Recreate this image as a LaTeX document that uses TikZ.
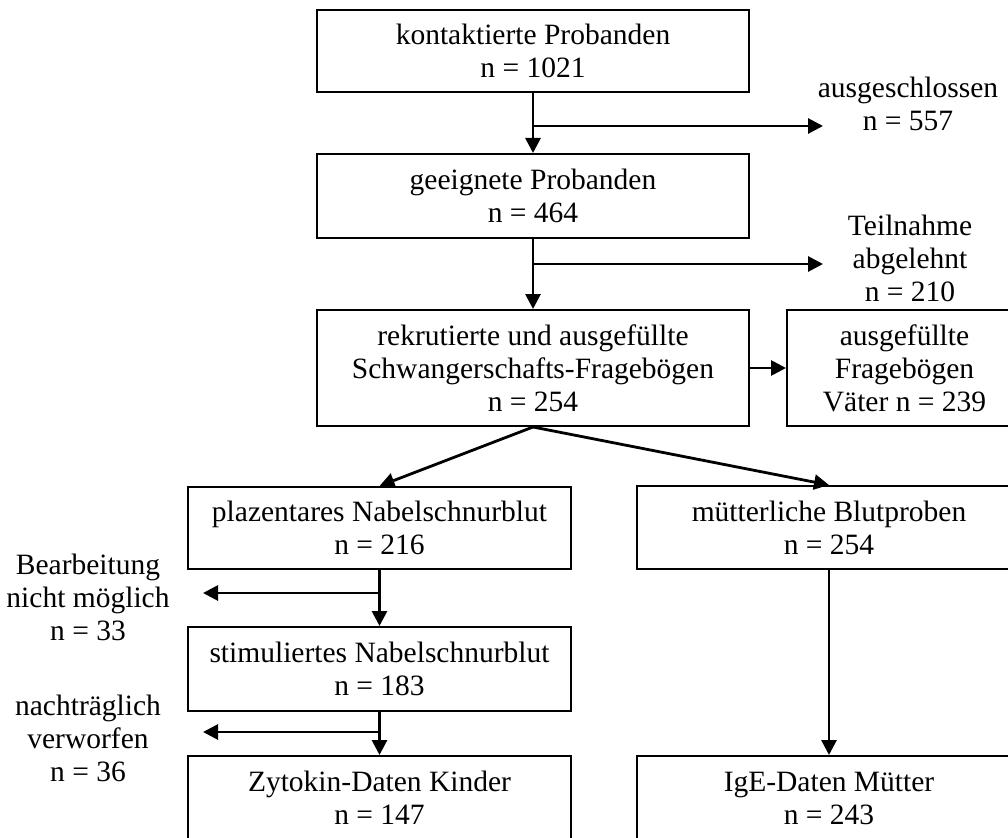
\documentclass[tikz,border=0pt]{standalone}
\usepackage{fontspec}
\setmainfont{Liberation Serif}
\usetikzlibrary{arrows.meta}
\begin{document}
\begin{tikzpicture}[x=1pt,y=-1pt,
  txt/.style={inner sep=0pt,align=center,font=\fontsize{29.5}{33}\selectfont},
  box/.style={txt,draw,line width=2pt},
  ln/.style={line width=2.8pt},
  arr/.style={ln,-{Triangle[length=15pt,width=15pt]}}]
\useasboundingbox (0,0) rectangle (1008,837);
\clip (0,0) rectangle (1008,837);
% main column
\node[box,minimum width=432pt,minimum height=82pt] (b1) at (533,51) {kontaktierte Probanden\\n = 1021};
\node[box,minimum width=432pt,minimum height=84pt] (b2) at (533,196) {geeignete Probanden\\n = 464};
\node[box,minimum width=432pt,minimum height=116pt] (b3) at (533,368) {rekrutierte und ausgefüllte\\Schwangerschafts-Fragebögen\\n = 254};
\node[box,minimum width=235pt,minimum height=116pt] (b4) at (904.5,368) {ausgefüllte\\Fragebögen\\Väter n = 239};
% lower columns
\node[box,minimum width=383pt,minimum height=82pt] (b5) at (379.5,528) {plazentares Nabelschnurblut\\n = 216};
\node[box,minimum width=384pt,minimum height=83pt] (b6) at (829,527.5) {mütterliche Blutproben\\n = 254};
\node[box,minimum width=383pt,minimum height=84pt] (b7) at (379.5,669) {stimuliertes Nabelschnurblut\\n = 183};
\node[box,minimum width=383pt,minimum height=84pt] (b8) at (379.5,798) {Zytokin-Daten Kinder\\n = 147};
\node[box,minimum width=384pt,minimum height=84pt] (b9) at (829,798) {IgE-Daten Mütter\\n = 243};
% side labels
\node[txt] (l1) at (908,103.5) {ausgeschlossen\\n = 557};
\node[txt] (l2) at (910,258) {Teilnahme\\abgelehnt\\n = 210};
\node[txt] (l3) at (88,597) {Bearbeitung\\nicht möglich\\n = 33};
\node[txt] (l4) at (88,738) {nachträglich\\verworfen\\n = 36};
% arrow end points
\coordinate (e1) at (823,126);
\coordinate (e2) at (823,264);
\coordinate (e3) at (203,593);
\coordinate (e4) at (203,732);
% connectors
\draw[arr] (b1.south) -- (b2.north);
\draw[arr] (b1.south |- e1) -- (e1);
\draw[arr] (b2.south) -- (b3.north);
\draw[arr] (b2.south |- e2) -- (e2);
\draw[arr] (b3.east) -- (b4.west);
\draw[arr] (b3.south) -- (b5.north);
\draw[arr] (b3.south) -- (b6.north);
\draw[arr] (b5.south) -- (b7.north);
\draw[arr] (b5.south |- e3) -- (e3);
\draw[arr] (b7.south) -- (b8.north);
\draw[arr] (b7.south |- e4) -- (e4);
\draw[arr] (b6.south) -- (b9.north);
\end{tikzpicture}
\end{document}
